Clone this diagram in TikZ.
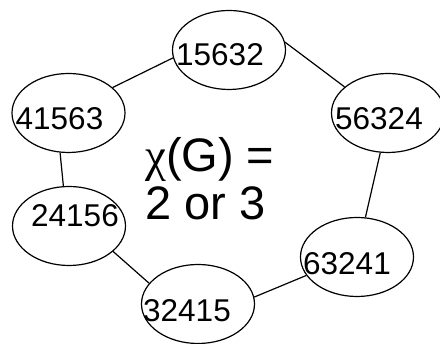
\documentclass[tikz,border=0pt]{standalone}
\usepackage{fontspec}
\setmainfont{Liberation Sans}
\newfontfamily\greekfont{Liberation Serif}
\usetikzlibrary{shapes.geometric}
\tikzset{
    vertex/.style={
           ellipse,
           draw=black, line width=1.2pt,
           minimum width=113pt,
           minimum height=79pt,
           inner sep=0pt,
           },
    perm/.style={
           font=\fontsize{31.5}{36}\selectfont,
           inner sep=0pt,
           },
}

\begin{document}
\begin{tikzpicture}[x=1pt, y=1pt]
    \useasboundingbox (0,0) rectangle (440,344);

    % the six permutations (text sits a bit off the centre)
    \node[vertex, label={[perm, xshift=-9pt, yshift=-5pt]center:15632}] (p15632) at (229,294) {};
    \node[vertex, label={[perm, xshift=-9pt, yshift=-6pt]center:56324}] (p56324) at (388,231) {};
    \node[vertex, label={[perm, xshift=-10pt, yshift=-7pt]center:63241}] (p63241) at (357,87) {};
    \node[vertex, label={[perm, xshift=-11pt, yshift=-7pt]center:32415}] (p32415) at (198,40) {};
    \node[vertex, label={[perm, xshift=6pt, yshift=10pt]center:24156}] (p24156) at (69,118) {};
    \node[vertex, label={[perm, xshift=-9pt, yshift=-6pt]center:41563}] (p41563) at (68.5,231) {};

    % chromatic number in the middle
    \node[font=\fontsize{47}{48}\selectfont,
    align=left,          % two lines, left aligned
    inner sep=0pt,
    anchor=base west] (chi) at (145,124)
    {{\greekfont χ}(G) =\\2 or 3};

    % the ring of edges
    \path[line width=1.2pt]
        (p41563.30)  edge (p15632.188)
        (p15632.8)   edge (p56324.149)
        (p56324.259) edge (p63241.78)
        (p63241.200) edge (p32415.7)
        (p32415.157) edge (p24156.330)
        (p24156.98)  edge (p41563.258)
        ;

\end{tikzpicture}
\end{document}
